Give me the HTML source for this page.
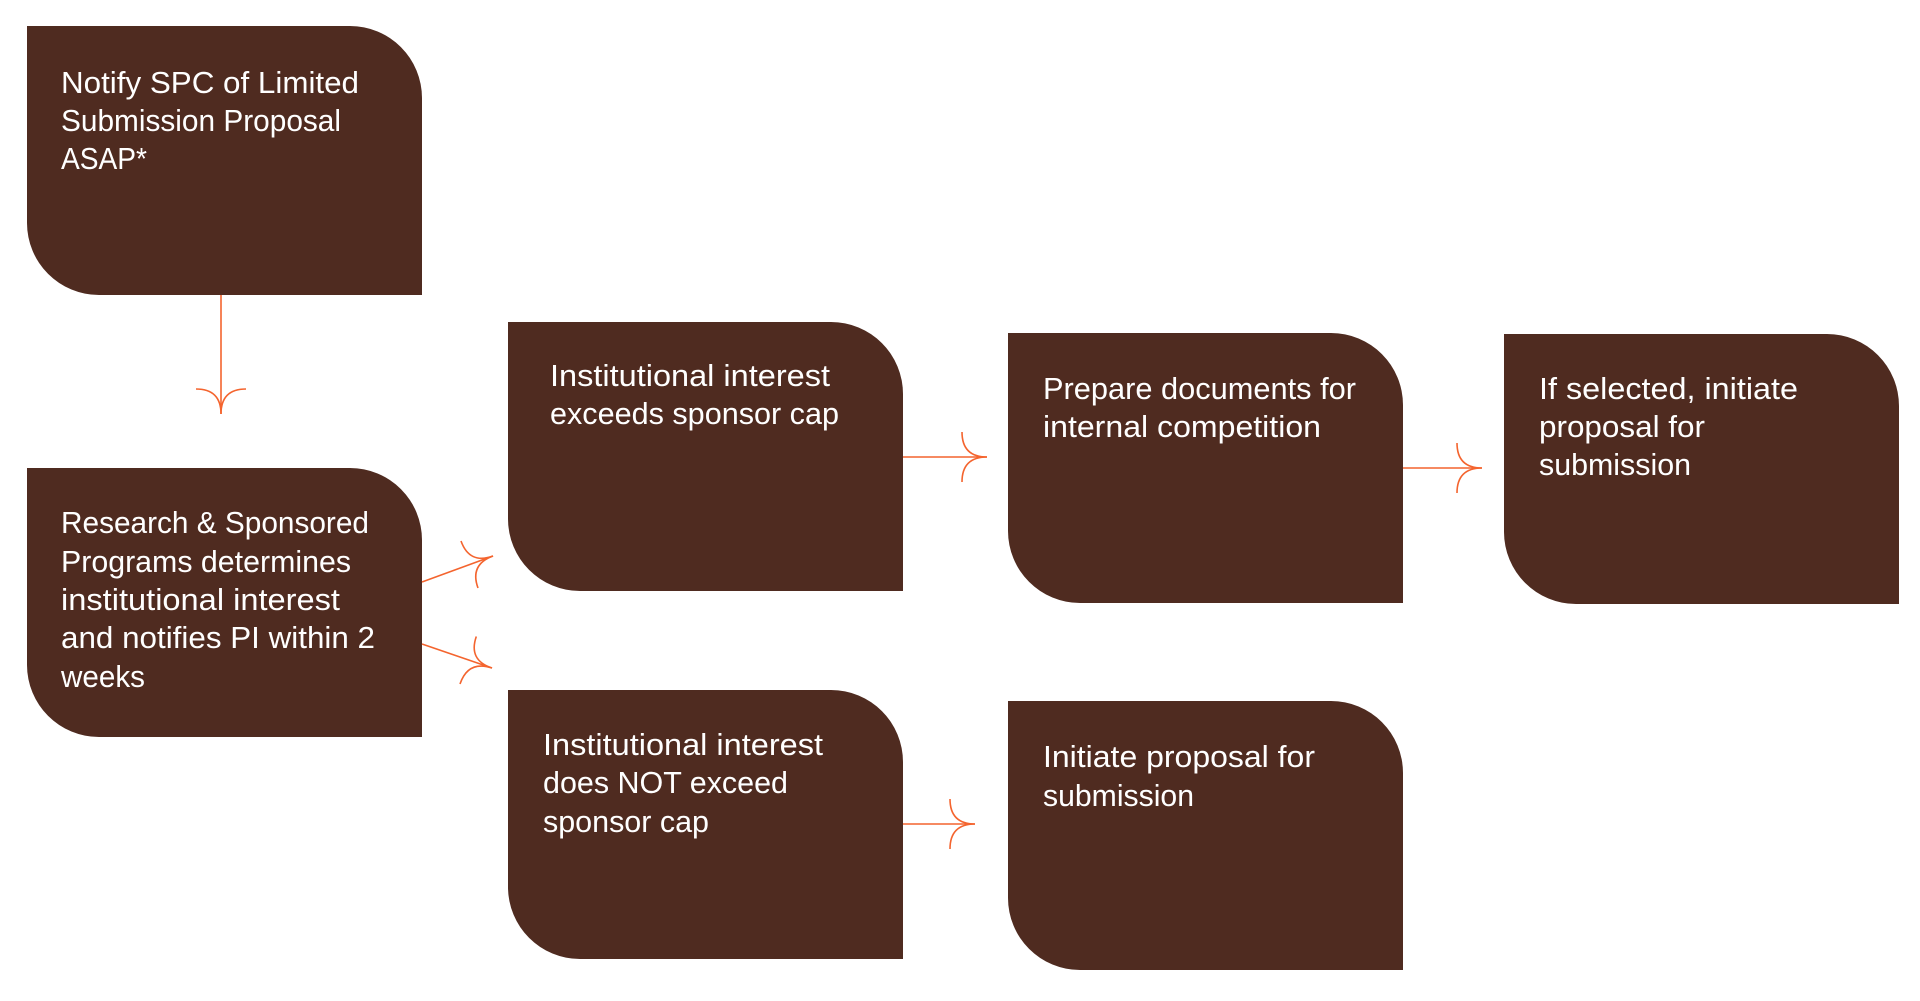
<!DOCTYPE html>
<html>
<head>
<meta charset="utf-8">
<style>
  html, body { margin: 0; padding: 0; background: #ffffff; }
  body { width: 1920px; height: 1001px; overflow: hidden; }
  svg { display: block; }
  text { font-family: "Liberation Sans", "DejaVu Sans", sans-serif; font-size: 31px; fill: #ffffff; }
  .box { fill: #4F2B20; }
  .ln { stroke: #F4642E; stroke-width: 1.6; fill: none; }
</style>
</head>
<body>
<svg width="1920" height="1001" viewBox="0 0 1920 1001" xmlns="http://www.w3.org/2000/svg">
  <!-- Boxes: square TL & BR corners, rounded TR & BL -->
  <path class="box" d="M27,26 H350 A72,72 0 0 1 422,98 V295 H99 A72,72 0 0 1 27,223 Z"/>
  <path class="box" d="M27,468 H350 A72,72 0 0 1 422,540 V737 H99 A72,72 0 0 1 27,665 Z"/>
  <path class="box" d="M508,322 H831 A72,72 0 0 1 903,394 V591 H580 A72,72 0 0 1 508,519 Z"/>
  <path class="box" d="M1008,333 H1331 A72,72 0 0 1 1403,405 V603 H1080 A72,72 0 0 1 1008,531 Z"/>
  <path class="box" d="M1504,334 H1827 A72,72 0 0 1 1899,406 V604 H1576 A72,72 0 0 1 1504,532 Z"/>
  <path class="box" d="M508,690 H831 A72,72 0 0 1 903,762 V959 H580 A72,72 0 0 1 508,887 Z"/>
  <path class="box" d="M1008,701 H1331 A72,72 0 0 1 1403,773 V970 H1080 A72,72 0 0 1 1008,898 Z"/>

  <!-- Connectors -->
  <path class="ln" d="M221,295 V414"/>
  <path class="ln" d="M196,389 Q221,389 221,414 M246,389 Q221,389 221,414"/>

  <path class="ln" d="M422,582 L493,556"/>
  <path class="ln" d="M478,588 Q469.5,564.6 493,556 M461,541 Q469.5,564.6 493,556"/>

  <path class="ln" d="M422,644 L492,668"/>
  <path class="ln" d="M460,684 Q468.1,660.1 492,668 M476.3,636.5 Q468.1,660.1 492,668"/>

  <path class="ln" d="M903,457 H987"/>
  <path class="ln" d="M962,432 Q962,457 987,457 M962,482 Q962,457 987,457"/>

  <path class="ln" d="M1403,468 H1482"/>
  <path class="ln" d="M1457,443 Q1457,468 1482,468 M1457,493 Q1457,468 1482,468"/>

  <path class="ln" d="M903,824 H975"/>
  <path class="ln" d="M950,799 Q950,824 975,824 M950,849 Q950,824 975,824"/>

  <!-- Labels -->
  <text x="61" y="93" textLength="298" lengthAdjust="spacingAndGlyphs">Notify SPC of Limited</text>
  <text x="61" y="131" textLength="280" lengthAdjust="spacingAndGlyphs">Submission Proposal</text>
  <text x="61" y="169" textLength="86" lengthAdjust="spacingAndGlyphs">ASAP*</text>

  <text x="61" y="533" textLength="308" lengthAdjust="spacingAndGlyphs">Research &amp; Sponsored</text>
  <text x="61" y="572" textLength="290" lengthAdjust="spacingAndGlyphs">Programs determines</text>
  <text x="61" y="610" textLength="279" lengthAdjust="spacingAndGlyphs">institutional interest</text>
  <text x="61" y="648" textLength="314" lengthAdjust="spacingAndGlyphs">and notifies PI within 2</text>
  <text x="61" y="687" textLength="84" lengthAdjust="spacingAndGlyphs">weeks</text>

  <text x="550" y="386" textLength="280" lengthAdjust="spacingAndGlyphs">Institutional interest</text>
  <text x="550" y="424" textLength="289" lengthAdjust="spacingAndGlyphs">exceeds sponsor cap</text>

  <text x="1043" y="399" textLength="313" lengthAdjust="spacingAndGlyphs">Prepare documents for</text>
  <text x="1043" y="437" textLength="278" lengthAdjust="spacingAndGlyphs">internal competition</text>

  <text x="1539" y="399" textLength="259" lengthAdjust="spacingAndGlyphs">If selected, initiate</text>
  <text x="1539" y="437" textLength="166" lengthAdjust="spacingAndGlyphs">proposal for</text>
  <text x="1539" y="475" textLength="152" lengthAdjust="spacingAndGlyphs">submission</text>

  <text x="543" y="755" textLength="280" lengthAdjust="spacingAndGlyphs">Institutional interest</text>
  <text x="543" y="793" textLength="245" lengthAdjust="spacingAndGlyphs">does NOT exceed</text>
  <text x="543" y="832" textLength="166" lengthAdjust="spacingAndGlyphs">sponsor cap</text>

  <text x="1043" y="767" textLength="272" lengthAdjust="spacingAndGlyphs">Initiate proposal for</text>
  <text x="1043" y="806" textLength="151" lengthAdjust="spacingAndGlyphs">submission</text>
</svg>
</body>
</html>
